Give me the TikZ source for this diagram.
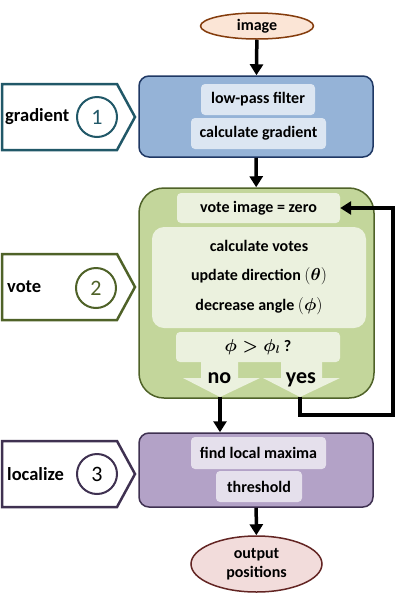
\documentclass[tikz,border=0pt]{standalone}
\usepackage{amsmath, amssymb}
\usepackage{fontspec}
\setmainfont{Carlito}
\usetikzlibrary{arrows.meta, shapes.geometric}

\definecolor{inpfill}{HTML}{FBE5D6}
\definecolor{inpline}{HTML}{843C0C}
\definecolor{outfill}{HTML}{F2DCDB}
\definecolor{outline}{HTML}{632523}
\definecolor{bluebox}{HTML}{95B3D7}
\definecolor{bluein}{HTML}{DCE6F2}
\definecolor{blueline}{HTML}{1F3864}
\definecolor{tealline}{HTML}{215868}
\definecolor{greenbox}{HTML}{C3D69B}
\definecolor{greenin}{HTML}{EBF1DE}
\definecolor{greenline}{HTML}{4F6228}
\definecolor{purplebox}{HTML}{B3A2C7}
\definecolor{purplein}{HTML}{E5E0EC}
\definecolor{purpleline}{HTML}{3F3151}

\begin{document}
\begin{tikzpicture}[x=1pt, y=-1pt,
  stage/.style={draw, line width=1.5pt, rounded corners=10pt, minimum width=234pt},
  sub/.style={rounded corners=4pt, inner sep=0pt, font=\fontsize{16}{19}\selectfont\bfseries},
  term/.style={ellipse, draw, line width=1.5pt, inner sep=0pt, align=center,
    font=\fontsize{16}{19}\selectfont\bfseries},
  tagline/.style={line width=2.5pt, fill=white},
  tagnum/.style={circle, draw, line width=2pt, minimum size=40pt, inner sep=0pt,
    font=\fontsize{22}{24}\selectfont},
  taglbl/.style={anchor=west, inner sep=0pt, font=\fontsize{18.5}{20}\selectfont\bfseries},
  flow/.style={line width=3.5pt, -{Triangle[width=13pt, length=11pt]}}]
\useasboundingbox (0,0) rectangle (401,595);

% input and output
\node[term, fill=inpfill, draw=inpline, minimum width=113pt, minimum height=26pt] (img) at (257,26) {image};
\node[term, fill=outfill, draw=outline, minimum width=131pt, minimum height=56pt] (out) at (256.5,564) {output\\positions};

% stage 1
\node[stage, fill=bluebox, draw=blueline, minimum height=81pt] (gradbox) at (256,116.5) {};
\node[sub, fill=bluein, minimum width=114pt, minimum height=31pt] (lpf) at (258,99.5) {low-pass filter};
\node[sub, fill=bluein, minimum width=135pt, minimum height=31pt] (cgrad) at (258.5,133.5) {calculate gradient};
\draw[tagline, draw=tealline] (2,84) -- (117,84) -- (135,117) -- (117,150) -- (2,150) -- cycle;
\node[taglbl] (gradlbl) at (5,117) {gradient};
\node[tagnum, draw=tealline, text=tealline] (gradnum) at (97,117) {1};

% stage 2
\node[stage, fill=greenbox, draw=greenline, minimum width=235pt, minimum height=210pt, rounded corners=25pt] (votebox) at (256.5,293) {};
\node[sub, fill=greenin, minimum width=163pt, minimum height=30pt] (vzero) at (258.5,208) {vote image = zero};
\node[sub, fill=greenin, minimum width=214pt, minimum height=101pt, rounded corners=12pt, align=center,
  font=\fontsize{16}{29.5}\selectfont\bfseries] (vcalc) at (259,277.5)
  {calculate votes\\update direction $(\boldsymbol{\theta})$\\decrease angle $(\boldsymbol{\phi})$};
\node[sub, fill=greenin, minimum width=164pt, minimum height=30pt] (cond) at (258,347) {$\boldsymbol{\phi > \phi_l}$ ?};
\fill[greenin] (201,361) -- (238,361) -- (238,378) -- (260,378) -- (220,397) -- (183,378) -- (201,378) -- cycle;
\fill[greenin] (281,361) -- (322,361) -- (322,378) -- (340,378) -- (300,397) -- (263,378) -- (281,378) -- cycle;
\node[inner sep=0pt, anchor=base, font=\fontsize{22}{24}\selectfont\bfseries] (no) at (219.5,383) {no};
\node[inner sep=0pt, anchor=base, font=\fontsize{22}{24}\selectfont\bfseries] (yes) at (301,383) {yes};
\coordinate (notip) at (220,397);
\coordinate (yestip) at (300,397);
\coordinate (loopc) at (393,415);
\draw[tagline, draw=greenline] (2,254) -- (117,254) -- (135,287) -- (117,320) -- (2,320) -- cycle;
\node[taglbl] (votelbl) at (7,287) {vote};
\node[tagnum, draw=greenline, text=greenline] (votenum) at (96,288) {2};

% stage 3
\node[stage, fill=purplebox, draw=purpleline, minimum height=74pt] (locbox) at (256,470) {};
\node[sub, fill=purplein, minimum width=135pt, minimum height=32pt] (flm) at (258.5,453) {find local maxima};
\node[sub, fill=purplein, minimum width=86pt, minimum height=31pt] (thr) at (259,486.5) {threshold};
\draw[tagline, draw=purpleline] (2,441) -- (117,441) -- (135,474) -- (117,507) -- (2,507) -- cycle;
\node[taglbl] (loclbl) at (7,474) {localize};
\node[tagnum, draw=purpleline, text=black] (locnum) at (97,474) {3};

% connectors
\draw[flow] (img) -- (gradbox);
\draw[flow] (gradbox) -- (votebox);
\draw[flow] (notip) -- (notip |- locbox.north);
\draw[flow] (yestip) |- (loopc) |- (vzero.east);
\draw[flow] (locbox) -- (out);
\end{tikzpicture}
\end{document}
